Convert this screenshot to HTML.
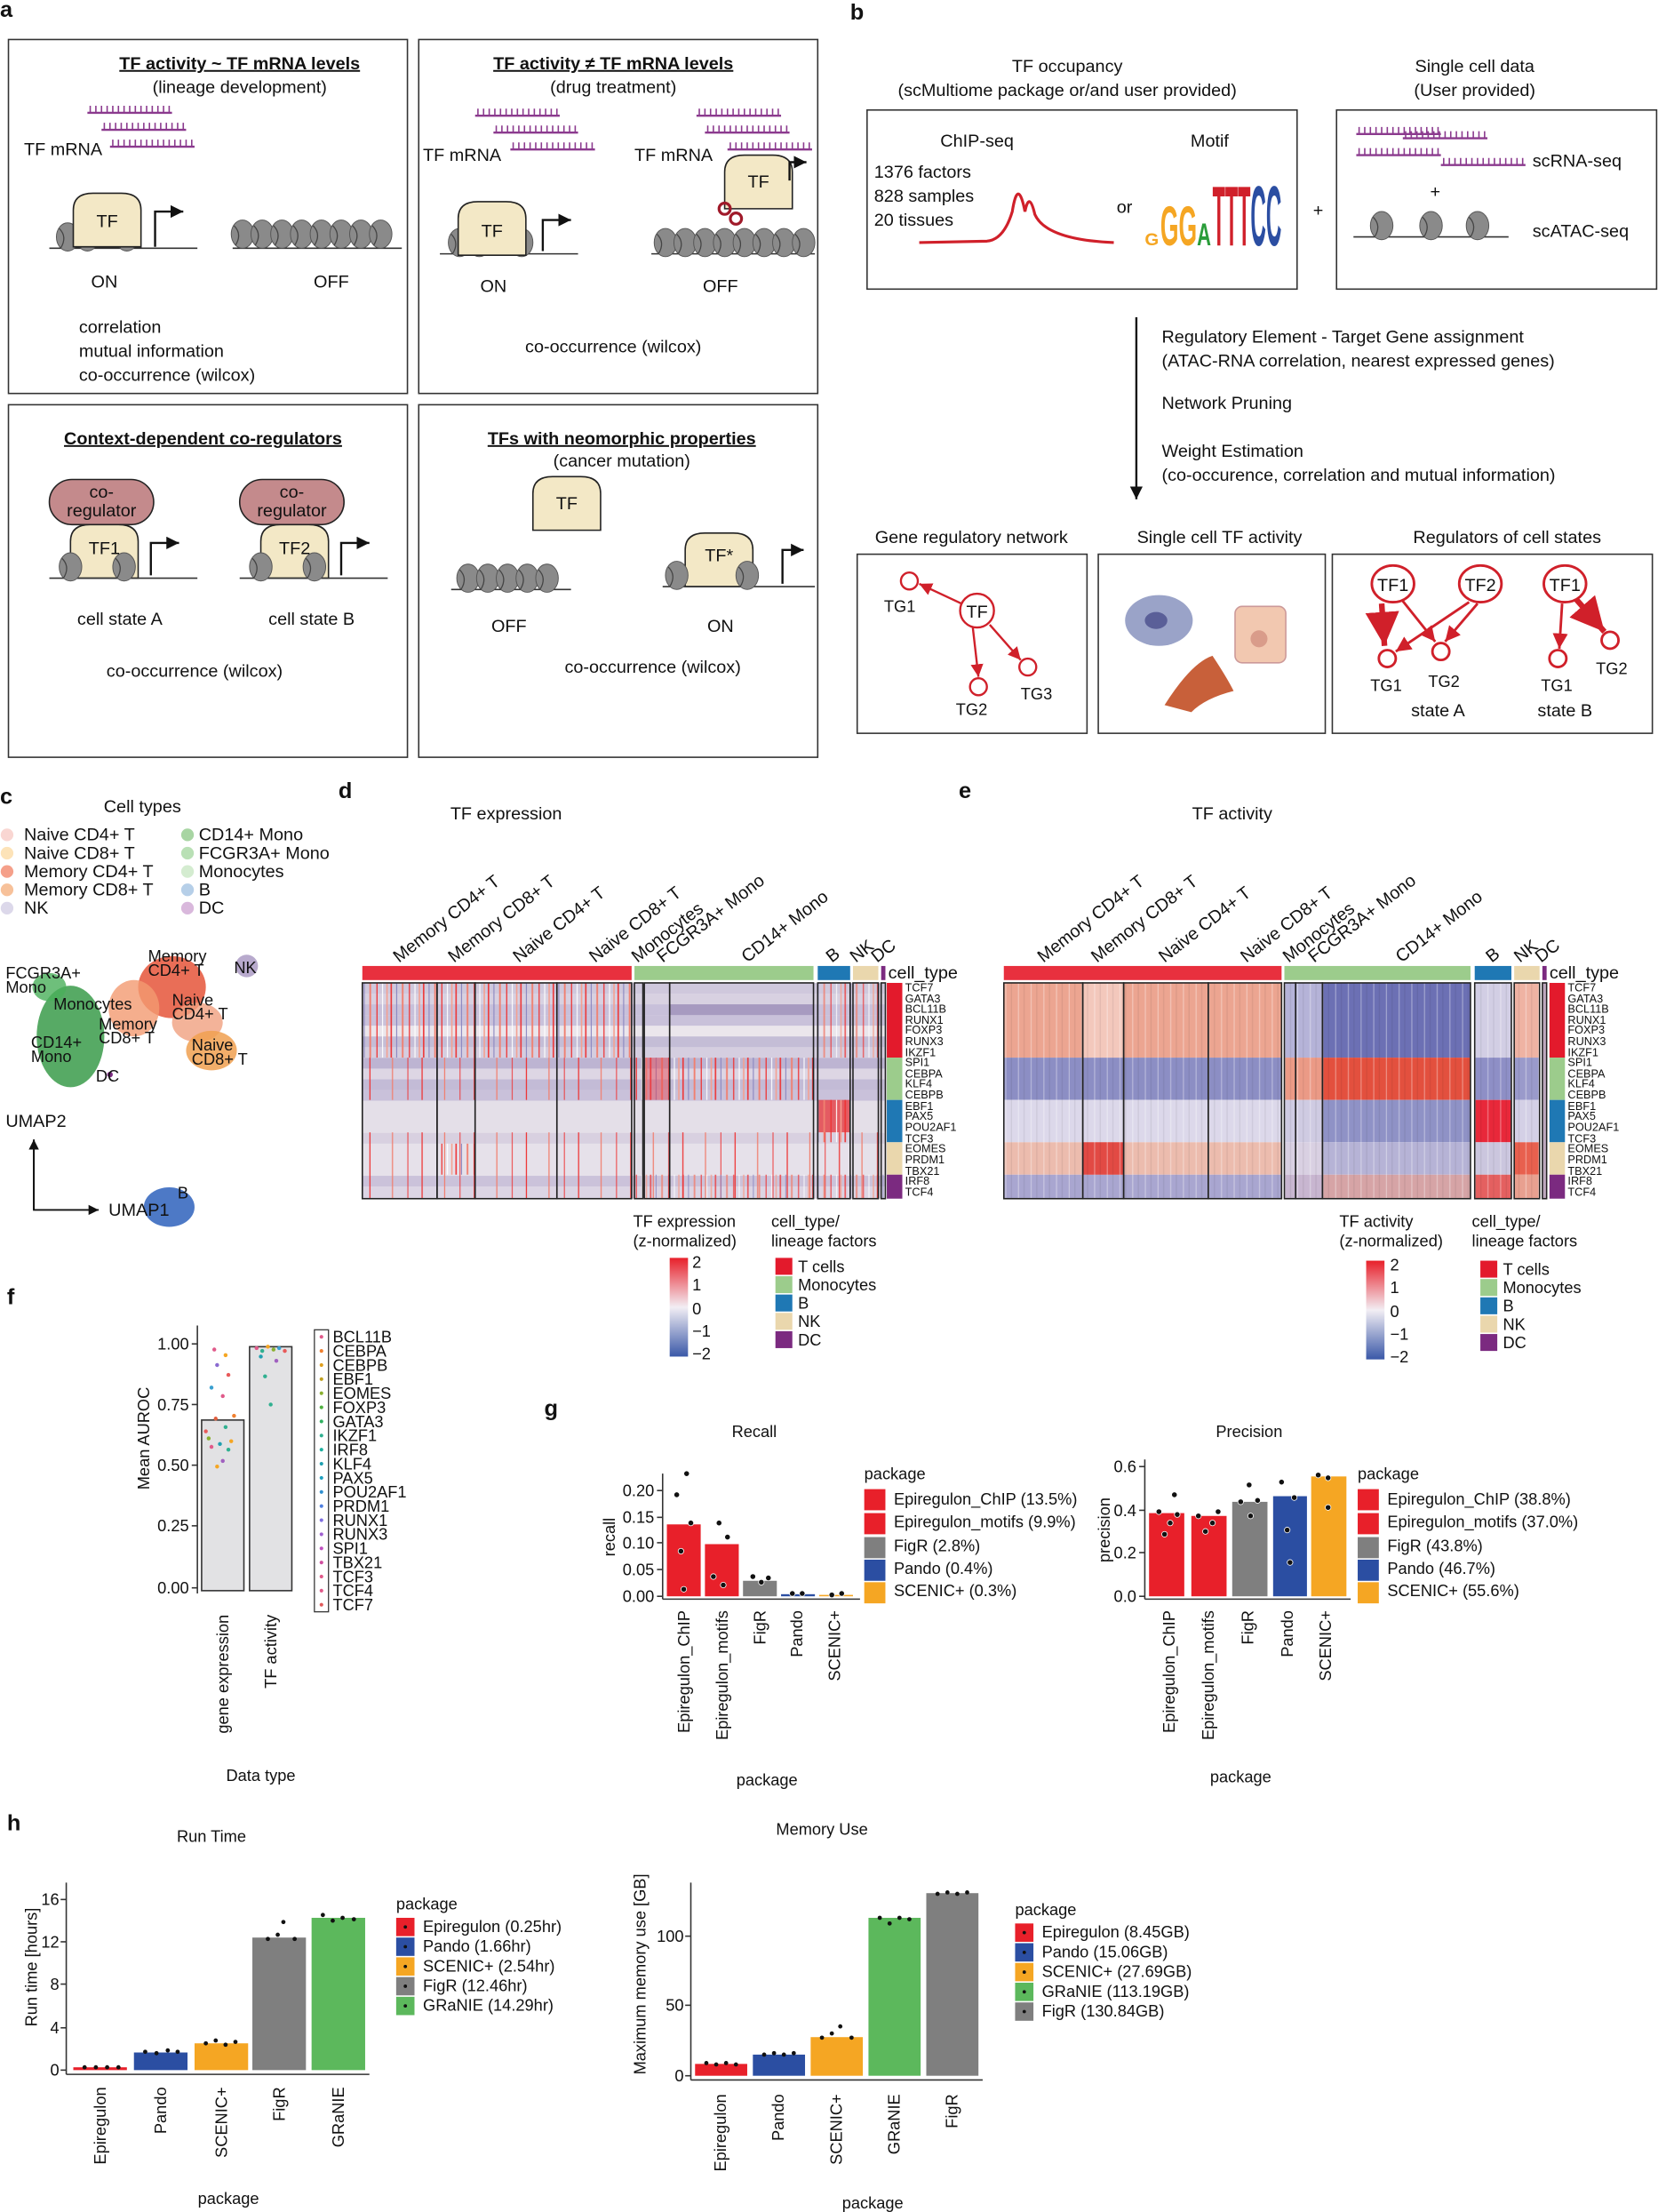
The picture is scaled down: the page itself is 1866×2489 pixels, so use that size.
<!DOCTYPE html>
<html><head><meta charset="utf-8"><style>
html,body{margin:0;padding:0;background:#fff}
svg{display:block}
text{font-family:"Liberation Sans",Arial,sans-serif;fill:#111}
.t{font-size:12.5px}.s{font-size:11.5px}.xs{font-size:8px}.L{font-size:16px;font-weight:bold}
.b{font-weight:bold;text-decoration:underline}
</style></head><body>
<svg width="1866" height="2489" viewBox="0 0 1176 1568.6" xmlns="http://www.w3.org/2000/svg">
<defs>
<pattern id="spk" width="23" height="8" patternUnits="userSpaceOnUse"><rect x="1" width="1" height="8" fill="#e33"/><rect x="5" width="0.7" height="8" fill="#8a86c0"/><rect x="9" width="1.2" height="8" fill="#f08070"/><rect x="14" width="0.8" height="8" fill="#e33"/><rect x="18" width="0.7" height="8" fill="#fff"/><rect x="21" width="1" height="8" fill="#f4a090"/></pattern>
<pattern id="spk2" width="37" height="8" patternUnits="userSpaceOnUse"><rect x="3" width="0.8" height="8" fill="#e33"/><rect x="19" width="0.8" height="8" fill="#f08070"/><rect x="30" width="0.6" height="8" fill="#e33"/></pattern>
<pattern id="nz" width="9" height="8" patternUnits="userSpaceOnUse"><rect x="2" width="0.8" height="8" fill="#fff" opacity=".35"/><rect x="6" width="0.8" height="8" fill="#000" opacity=".07"/></pattern>
<linearGradient id="cb" x1="0" y1="0" x2="0" y2="1"><stop offset="0" stop-color="#e8202a"/><stop offset=".5" stop-color="#f2eef4"/><stop offset="1" stop-color="#3a58a8"/></linearGradient>
<marker id="ar" markerWidth="8" markerHeight="8" refX="6" refY="3" orient="auto"><path d="M0,0L6,3L0,6z" fill="#111"/></marker>
<marker id="arr" markerWidth="8" markerHeight="8" refX="6" refY="3" orient="auto"><path d="M0,0L6,3L0,6z" fill="#d0202a"/></marker>
<g id="nuc"><ellipse cx="0" cy="0" rx="8" ry="10" fill="#8a8a8a" stroke="#555" stroke-width=".6"/><path d="M-6,-6 Q0,0 -5,8" stroke="#444" fill="none" stroke-width=".8"/></g>
<g id="mrna"><line x1="0" y1="0" x2="60" y2="0" stroke="#8b3a8e" stroke-width="1.5"/><path d="M2,0v-5M6,0v-5M10,0v-5M14,0v-5M18,0v-5M22,0v-5M26,0v-5M30,0v-5M34,0v-5M38,0v-5M42,0v-5M46,0v-5M50,0v-5M54,0v-5M58,0v-5" stroke="#8b3a8e" stroke-width="1"/></g>
<g id="tf"><path d="M0,38 L0,12 Q0,0 14,0 L34,0 Q48,0 48,12 L48,38z" fill="#f3e8c6" stroke="#222" stroke-width="1"/></g>
</defs>

<!-- ============ PANEL A ============ -->
<text x="0" y="12" class="L">a</text>
<g fill="none" stroke="#333" stroke-width="1"><rect x="6" y="28" width="283" height="251"/><rect x="297" y="28" width="283" height="251"/><rect x="6" y="287" width="283" height="250"/><rect x="297" y="287" width="283" height="250"/></g>
<text x="170" y="49" class="t b" text-anchor="middle">TF activity ~ TF mRNA levels</text>
<text x="170" y="66" class="t" text-anchor="middle">(lineage development)</text>
<text x="17" y="110" class="t">TF mRNA</text>
<use href="#mrna" x="62" y="80"/><use href="#mrna" x="72" y="92"/><use href="#mrna" x="78" y="104"/>
<line x1="35" y1="176" x2="140" y2="176" stroke="#333"/>
<use href="#nuc" x="48" y="168"/><use href="#nuc" x="62" y="168"/><use href="#nuc" x="90" y="168"/>
<use href="#tf" x="52" y="137"/><text x="76" y="161" class="t" text-anchor="middle">TF</text>
<path d="M110,175 V150 H130" stroke="#111" fill="none" stroke-width="1.5" marker-end="url(#ar)"/>
<g><line x1="165" y1="176" x2="285" y2="176" stroke="#333"/>
<use href="#nuc" x="172" y="166"/><use href="#nuc" x="186" y="166"/><use href="#nuc" x="200" y="166"/><use href="#nuc" x="214" y="166"/><use href="#nuc" x="228" y="166"/><use href="#nuc" x="242" y="166"/><use href="#nuc" x="256" y="166"/><use href="#nuc" x="270" y="166"/></g>
<text x="74" y="204" class="t" text-anchor="middle">ON</text><text x="235" y="204" class="t" text-anchor="middle">OFF</text>
<text x="56" y="236" class="t">correlation</text><text x="56" y="253" class="t">mutual information</text><text x="56" y="270" class="t">co-occurrence (wilcox)</text>

<text x="435" y="49" class="t b" text-anchor="middle">TF activity ≠ TF mRNA levels</text>
<text x="435" y="66" class="t" text-anchor="middle">(drug treatment)</text>
<text x="300" y="114" class="t">TF mRNA</text>
<use href="#mrna" x="337" y="82"/><use href="#mrna" x="350" y="94"/><use href="#mrna" x="362" y="106"/>
<line x1="312" y1="180" x2="410" y2="180" stroke="#333"/>
<use href="#nuc" x="326" y="172"/><use href="#nuc" x="340" y="172"/><use href="#nuc" x="370" y="172"/>
<use href="#tf" x="325" y="143"/><text x="349" y="168" class="t" text-anchor="middle">TF</text>
<path d="M385,178 V156 H405" stroke="#111" fill="none" stroke-width="1.5" marker-end="url(#ar)"/>
<text x="450" y="114" class="t">TF mRNA</text>
<use href="#mrna" x="494" y="82"/><use href="#mrna" x="500" y="94"/><use href="#mrna" x="516" y="106"/>
<use href="#tf" x="514" y="110"/><text x="538" y="133" class="t" text-anchor="middle">TF</text>
<path d="M560,128 V115 H572" stroke="#111" fill="none" stroke-width="1.5" marker-end="url(#ar)"/>
<circle cx="514" cy="148" r="4" fill="none" stroke="#a01a2a" stroke-width="2"/><circle cx="522" cy="155" r="4" fill="none" stroke="#a01a2a" stroke-width="2"/>
<line x1="462" y1="180" x2="578" y2="180" stroke="#333"/>
<g><use href="#nuc" x="472" y="172"/><use href="#nuc" x="486" y="172"/><use href="#nuc" x="500" y="172"/><use href="#nuc" x="514" y="172"/><use href="#nuc" x="528" y="172"/><use href="#nuc" x="542" y="172"/><use href="#nuc" x="556" y="172"/><use href="#nuc" x="570" y="172"/></g>
<text x="350" y="207" class="t" text-anchor="middle">ON</text><text x="511" y="207" class="t" text-anchor="middle">OFF</text>
<text x="435" y="250" class="t" text-anchor="middle">co-occurrence (wilcox)</text>

<text x="144" y="315" class="t b" text-anchor="middle">Context-dependent co-regulators</text>
<rect x="35" y="340" width="74" height="32" rx="16" fill="#c48a8c" stroke="#222"/><text x="72" y="353" class="t" text-anchor="middle">co-</text><text x="72" y="366" class="t" text-anchor="middle">regulator</text>
<rect x="170" y="340" width="74" height="32" rx="16" fill="#c48a8c" stroke="#222"/><text x="207" y="353" class="t" text-anchor="middle">co-</text><text x="207" y="366" class="t" text-anchor="middle">regulator</text>
<use href="#tf" x="50" y="372"/><text x="74" y="393" class="t" text-anchor="middle">TF1</text>
<use href="#tf" x="185" y="372"/><text x="209" y="393" class="t" text-anchor="middle">TF2</text>
<line x1="35" y1="410" x2="140" y2="410" stroke="#333"/><line x1="170" y1="410" x2="275" y2="410" stroke="#333"/>
<use href="#nuc" x="50" y="402"/><use href="#nuc" x="88" y="402"/><use href="#nuc" x="185" y="402"/><use href="#nuc" x="223" y="402"/>
<path d="M107,408 V385 H127" stroke="#111" fill="none" stroke-width="1.5" marker-end="url(#ar)"/>
<path d="M242,408 V385 H262" stroke="#111" fill="none" stroke-width="1.5" marker-end="url(#ar)"/>
<text x="85" y="443" class="t" text-anchor="middle">cell state A</text><text x="221" y="443" class="t" text-anchor="middle">cell state B</text>
<text x="138" y="480" class="t" text-anchor="middle">co-occurrence (wilcox)</text>

<text x="441" y="315" class="t b" text-anchor="middle">TFs with neomorphic properties</text>
<text x="441" y="331" class="t" text-anchor="middle">(cancer mutation)</text>
<use href="#tf" x="378" y="338"/><text x="402" y="361" class="t" text-anchor="middle">TF</text>
<line x1="320" y1="418" x2="405" y2="418" stroke="#333"/>
<g><use href="#nuc" x="332" y="410"/><use href="#nuc" x="346" y="410"/><use href="#nuc" x="360" y="410"/><use href="#nuc" x="374" y="410"/><use href="#nuc" x="388" y="410"/></g>
<use href="#tf" x="486" y="378"/><text x="510" y="398" class="t" text-anchor="middle">TF*</text>
<line x1="470" y1="416" x2="578" y2="416" stroke="#333"/>
<use href="#nuc" x="480" y="408"/><use href="#nuc" x="530" y="408"/>
<path d="M555,414 V390 H570" stroke="#111" fill="none" stroke-width="1.5" marker-end="url(#ar)"/>
<text x="361" y="448" class="t" text-anchor="middle">OFF</text><text x="511" y="448" class="t" text-anchor="middle">ON</text>
<text x="463" y="477" class="t" text-anchor="middle">co-occurrence (wilcox)</text>

<!-- ============ PANEL B ============ -->
<text x="603" y="14" class="L">b</text>
<text x="757" y="51" class="t" text-anchor="middle">TF occupancy</text>
<text x="757" y="68" class="t" text-anchor="middle">(scMultiome package or/and user provided)</text>
<text x="1046" y="51" class="t" text-anchor="middle">Single cell data</text>
<text x="1046" y="68" class="t" text-anchor="middle">(User provided)</text>
<rect x="615" y="78" width="305" height="127" fill="none" stroke="#333"/>
<rect x="948" y="78" width="227" height="127" fill="none" stroke="#333"/>
<text x="693" y="104" class="t" text-anchor="middle">ChIP-seq</text><text x="858" y="104" class="t" text-anchor="middle">Motif</text>
<text x="620" y="126" class="t">1376 factors</text><text x="620" y="143" class="t">828 samples</text><text x="620" y="160" class="t">20 tissues</text>
<path d="M652,172 L700,171 Q712,170 718,150 Q722,125 727,150 Q730,135 734,152 Q742,170 790,172" stroke="#d0202a" stroke-width="2" fill="none"/>
<text x="792" y="151" class="t">or</text>
<g font-weight="bold">
<text x="812" y="174" font-size="12" style="fill:#f5a623" textLength="10" lengthAdjust="spacingAndGlyphs">G</text>
<text x="823" y="174" font-size="40" style="fill:#f5a623" textLength="13" lengthAdjust="spacingAndGlyphs">G</text>
<text x="836" y="174" font-size="40" style="fill:#f5a623" textLength="13" lengthAdjust="spacingAndGlyphs">G</text>
<text x="849" y="174" font-size="22" style="fill:#2a9d3a" textLength="10" lengthAdjust="spacingAndGlyphs">A</text>
<text x="860" y="174" font-size="60" style="fill:#d0202a" textLength="27" lengthAdjust="spacingAndGlyphs">TTT</text>
<text x="887" y="174" font-size="60" style="fill:#2b4ea2" textLength="22" lengthAdjust="spacingAndGlyphs">CC</text></g>
<text x="935" y="153" class="t" text-anchor="middle">+</text>
<use href="#mrna" x="962" y="95"/><use href="#mrna" x="995" y="98"/><use href="#mrna" x="1022" y="117"/><use href="#mrna" x="962" y="110"/>
<text x="1087" y="118" class="t">scRNA-seq</text>
<text x="1018" y="140" class="t" text-anchor="middle">+</text>
<line x1="960" y1="168" x2="1070" y2="168" stroke="#333"/>
<use href="#nuc" x="980" y="160"/><use href="#nuc" x="1015" y="160"/><use href="#nuc" x="1048" y="160"/>
<text x="1087" y="168" class="t">scATAC-seq</text>
<line x1="806" y1="225" x2="806" y2="354" stroke="#111" stroke-width="1.5" marker-end="url(#ar)"/>
<text x="824" y="243" class="t">Regulatory Element - Target Gene assignment</text>
<text x="824" y="260" class="t">(ATAC-RNA correlation, nearest expressed genes)</text>
<text x="824" y="290" class="t">Network Pruning</text>
<text x="824" y="324" class="t">Weight Estimation</text>
<text x="824" y="341" class="t">(co-occurence, correlation and mutual information)</text>
<text x="689" y="385" class="t" text-anchor="middle">Gene regulatory network</text>
<text x="865" y="385" class="t" text-anchor="middle">Single cell TF activity</text>
<text x="1069" y="385" class="t" text-anchor="middle">Regulators of cell states</text>
<g fill="none" stroke="#333"><rect x="608" y="393" width="163" height="127"/><rect x="779" y="393" width="161" height="127"/><rect x="945" y="393" width="227" height="127"/></g>
<g stroke="#d0202a" fill="#fff" stroke-width="1.5">
<line x1="682" y1="428" x2="652" y2="414" marker-end="url(#arr)"/><line x1="690" y1="445" x2="694" y2="480" marker-end="url(#arr)"/><line x1="702" y1="443" x2="724" y2="468" marker-end="url(#arr)"/>
<circle cx="693" cy="433" r="12"/><circle cx="645" cy="412" r="6"/><circle cx="694" cy="487" r="6"/><circle cx="729" cy="473" r="6"/></g>
<text x="693" y="438" class="t" text-anchor="middle">TF</text><text x="627" y="434" class="s">TG1</text><text x="678" y="507" class="s">TG2</text><text x="724" y="496" class="s">TG3</text>
<ellipse cx="822" cy="440" rx="24" ry="18" fill="#9aa3c8"/><ellipse cx="820" cy="440" rx="8" ry="6" fill="#5a5f98"/>
<rect x="876" y="430" width="36" height="40" rx="5" fill="#f2c8b0" stroke="#c99"/><circle cx="893" cy="453" r="6" fill="#d99c8a"/>
<path d="M826,500 Q845,470 860,465 Q870,480 875,490 Q855,495 845,505z" fill="#c8603a"/>
<g stroke="#d0202a" fill="#fff" stroke-width="1.8">
<line x1="980" y1="428" x2="982" y2="458" stroke-width="4" marker-end="url(#arr)"/><line x1="994" y1="425" x2="1018" y2="455" marker-end="url(#arr)"/><line x1="1042" y1="427" x2="990" y2="462" marker-end="url(#arr)"/><line x1="1048" y1="428" x2="1025" y2="455" marker-end="url(#arr)"/>
<line x1="1108" y1="428" x2="1106" y2="460" marker-end="url(#arr)"/><line x1="1118" y1="425" x2="1138" y2="448" stroke-width="4" marker-end="url(#arr)"/>
<ellipse cx="988" cy="414" rx="15" ry="13"/><ellipse cx="1050" cy="414" rx="15" ry="13"/><ellipse cx="1110" cy="414" rx="15" ry="13"/>
<circle cx="984" cy="467" r="6"/><circle cx="1022" cy="462" r="6"/><circle cx="1105" cy="467" r="6"/><circle cx="1142" cy="454" r="6"/></g>
<text x="988" y="419" class="t" text-anchor="middle">TF1</text><text x="1050" y="419" class="t" text-anchor="middle">TF2</text><text x="1110" y="419" class="t" text-anchor="middle">TF1</text>
<text x="972" y="490" class="s">TG1</text><text x="1013" y="487" class="s">TG2</text><text x="1093" y="490" class="s">TG1</text><text x="1132" y="478" class="s">TG2</text>
<text x="1020" y="508" class="t" text-anchor="middle">state A</text><text x="1110" y="508" class="t" text-anchor="middle">state B</text>

<!-- ============ PANEL C ============ -->
<text x="0" y="570" class="L">c</text>
<text x="101" y="576" class="t" text-anchor="middle">Cell types</text>
<g class="t">
<circle cx="5" cy="592" r="4.5" fill="#f9d6d2"/><text x="17" y="596">Naive CD4+ T</text>
<circle cx="5" cy="605" r="4.5" fill="#fde3b8"/><text x="17" y="609">Naive CD8+ T</text>
<circle cx="5" cy="618" r="4.5" fill="#f5a08a"/><text x="17" y="622">Memory CD4+ T</text>
<circle cx="5" cy="631" r="4.5" fill="#f7c19a"/><text x="17" y="635">Memory CD8+ T</text>
<circle cx="5" cy="644" r="4.5" fill="#dcd8ea"/><text x="17" y="648">NK</text>
<circle cx="133" cy="592" r="4.5" fill="#a8d5a3"/><text x="141" y="596">CD14+ Mono</text>
<circle cx="133" cy="605" r="4.5" fill="#b9e0b5"/><text x="141" y="609">FCGR3A+ Mono</text>
<circle cx="133" cy="618" r="4.5" fill="#d4ecd0"/><text x="141" y="622">Monocytes</text>
<circle cx="133" cy="631" r="4.5" fill="#b6cfe8"/><text x="141" y="635">B</text>
<circle cx="133" cy="644" r="4.5" fill="#d9b8dc"/><text x="141" y="648">DC</text></g>
<ellipse cx="122" cy="700" rx="24" ry="22" fill="#e5553a" opacity=".85"/>
<ellipse cx="140" cy="725" rx="18" ry="14" fill="#f0a080" opacity=".8"/>
<ellipse cx="150" cy="745" rx="18" ry="14" fill="#f0a050" opacity=".85"/>
<ellipse cx="95" cy="715" rx="18" ry="20" fill="#f39a70" opacity=".8"/>
<ellipse cx="50" cy="735" rx="24" ry="36" fill="#3a9b4a" opacity=".85"/>
<ellipse cx="35" cy="700" rx="12" ry="10" fill="#4aaf5a" opacity=".8"/>
<ellipse cx="175" cy="685" rx="8" ry="8" fill="#9a86b8" opacity=".7"/>
<ellipse cx="120" cy="856" rx="18" ry="14" fill="#3a6ac0" opacity=".9"/>
<circle cx="78" cy="762" r="2" fill="#7a2a80"/>
<g class="s"><text x="4" y="694">FCGR3A+</text><text x="4" y="704">Mono</text><text x="38" y="716">Monocytes</text><text x="22" y="743">CD14+</text><text x="22" y="753">Mono</text>
<text x="105" y="682">Memory</text><text x="105" y="692">CD4+ T</text><text x="166" y="690">NK</text><text x="122" y="713">Naive</text><text x="122" y="723">CD4+ T</text>
<text x="70" y="730">Memory</text><text x="70" y="740">CD8+ T</text><text x="136" y="745">Naive</text><text x="136" y="755">CD8+ T</text><text x="68" y="767">DC</text><text x="126" y="850">B</text></g>
<text x="4" y="799" class="t">UMAP2</text>
<path d="M24,810 V858 H70" stroke="#111" fill="none" stroke-width="1.2" marker-end="url(#ar)"/>
<line x1="24" y1="858" x2="24" y2="808" stroke="#111" stroke-width="1.2" marker-end="url(#ar)"/>
<text x="77" y="862" class="t">UMAP1</text>

<!-- ============ PANEL D ============ -->
<text x="240" y="566" class="L">d</text>
<text x="359" y="581" class="t" text-anchor="middle">TF expression</text>
<g class="t">
<text transform="translate(283,683) rotate(-38)">Memory CD4+ T</text>
<text transform="translate(322,683) rotate(-38)">Memory CD8+ T</text>
<text transform="translate(368,683) rotate(-38)">Naive CD4+ T</text>
<text transform="translate(422,683) rotate(-38)">Naive CD8+ T</text>
<text transform="translate(452,683) rotate(-38)">Monocytes</text>
<text transform="translate(470,683) rotate(-38)">FCGR3A+ Mono</text>
<text transform="translate(530,683) rotate(-38)">CD14+ Mono</text>
<text transform="translate(590,683) rotate(-38)">B</text>
<text transform="translate(607,683) rotate(-38)">NK</text>
<text transform="translate(622,683) rotate(-38)">DC</text></g>
<rect x="257" y="685" width="191" height="10" fill="#e8303e"/><rect x="450" y="685" width="127" height="10" fill="#9ccc8c"/><rect x="580" y="685" width="23" height="10" fill="#1f78b4"/><rect x="605" y="685" width="18" height="10" fill="#ead7ad"/><rect x="625" y="685" width="3" height="10" fill="#7b2a80"/>
<text x="630" y="694" class="t">cell_type</text>
<rect x="257" y="697" width="371" height="153" fill="#e4dfe9"/>
<g>
<rect x="257" y="697" width="371" height="7.6" fill="#cfc8dc"/><rect x="257" y="704.6" width="371" height="7.6" fill="#d8d1e1"/>
<rect x="257" y="712.2" width="371" height="7.6" fill="#c8c0da"/><rect x="257" y="719.8" width="371" height="7.6" fill="#c9c1da"/>
<rect x="257" y="727.4" width="371" height="7.6" fill="#ebe6ec"/><rect x="257" y="735" width="371" height="7.6" fill="#c4bdd6"/>
<rect x="257" y="742.6" width="371" height="7.6" fill="#d5cee0"/><rect x="257" y="750.2" width="371" height="7.6" fill="#bdb4d2"/>
<rect x="257" y="757.8" width="371" height="7.6" fill="#ddd6e4"/><rect x="257" y="765.4" width="371" height="7.6" fill="#c3bbd6"/>
<rect x="257" y="773" width="371" height="7.6" fill="#c9c1da"/><rect x="257" y="780.6" width="371" height="22.8" fill="#e4dfe8"/>
<rect x="257" y="803.4" width="371" height="7.6" fill="#d8d0e0"/><rect x="257" y="811" width="371" height="22.8" fill="#e6e1ea"/>
<rect x="257" y="833.8" width="371" height="7.6" fill="#cbc2da"/><rect x="257" y="841.4" width="371" height="8.6" fill="#dcd5e4"/>
<rect x="475" y="712.2" width="102" height="7.6" fill="#a79ac0"/>
</g>
<rect x="257" y="697" width="191" height="53" fill="url(#spk)"/>
<rect x="580" y="697" width="43" height="53" fill="url(#spk)" opacity=".8"/>
<rect x="450" y="750" width="127" height="30" fill="url(#spk)"/>
<rect x="457" y="750" width="18" height="30" fill="#e8404a" opacity=".45"/>
<rect x="580" y="780" width="23" height="23" fill="#e33a40" opacity=".8"/><rect x="580" y="780" width="23" height="30" fill="url(#spk)"/>
<rect x="257" y="803" width="371" height="47" fill="url(#spk2)"/>
<rect x="310" y="811" width="27" height="22" fill="url(#spk)"/>
<rect x="450" y="833" width="178" height="17" fill="url(#spk)" opacity=".8"/>
<rect x="257" y="750" width="191" height="30" fill="url(#spk2)"/>
<g fill="none" stroke="#222" stroke-width="1"><rect x="257" y="697" width="53" height="153"/><rect x="310" y="697" width="27" height="153"/><rect x="337" y="697" width="58" height="153"/><rect x="395" y="697" width="53" height="153"/><rect x="450" y="697" width="6" height="153"/><rect x="457" y="697" width="18" height="153"/><rect x="475" y="697" width="102" height="153"/><rect x="580" y="697" width="23" height="153"/><rect x="605" y="697" width="18" height="153"/><rect x="625" y="697" width="3" height="153"/></g>
<rect x="629" y="697" width="11" height="53" fill="#e31a2c"/><rect x="629" y="750" width="11" height="30" fill="#9ccc8c"/><rect x="629" y="780" width="11" height="30" fill="#1f78b4"/><rect x="629" y="810" width="11" height="23" fill="#ead7ad"/><rect x="629" y="833" width="11" height="17" fill="#7b2a80"/>
<g class="xs" id="rl">
<text x="642" y="703">TCF7</text><text x="642" y="711">GATA3</text><text x="642" y="718">BCL11B</text><text x="642" y="726">RUNX1</text><text x="642" y="733">FOXP3</text><text x="642" y="741">RUNX3</text><text x="642" y="749">IKZF1</text><text x="642" y="756">SPI1</text><text x="642" y="764">CEBPA</text><text x="642" y="771">KLF4</text><text x="642" y="779">CEBPB</text><text x="642" y="787">EBF1</text><text x="642" y="794">PAX5</text><text x="642" y="802">POU2AF1</text><text x="642" y="810">TCF3</text><text x="642" y="817">EOMES</text><text x="642" y="825">PRDM1</text><text x="642" y="833">TBX21</text><text x="642" y="840">IRF8</text><text x="642" y="848">TCF4</text></g>
<text x="449" y="870" class="s">TF expression</text><text x="449" y="884" class="s">(z-normalized)</text>
<rect x="475" y="892" width="13" height="70" fill="url(#cb)"/>
<g class="s"><text x="491" y="899">2</text><text x="491" y="915">1</text><text x="491" y="932">0</text><text x="491" y="948">−1</text><text x="491" y="964">−2</text></g>
<text x="547" y="870" class="s">cell_type/</text><text x="547" y="884" class="s">lineage factors</text>
<g class="s"><rect x="550" y="892" width="12" height="12" fill="#e31a2c"/><text x="566" y="902">T cells</text><rect x="550" y="905" width="12" height="12" fill="#9ccc8c"/><text x="566" y="915">Monocytes</text><rect x="550" y="918" width="12" height="12" fill="#1f78b4"/><text x="566" y="928">B</text><rect x="550" y="931" width="12" height="12" fill="#ead7ad"/><text x="566" y="941">NK</text><rect x="550" y="944" width="12" height="12" fill="#7b2a80"/><text x="566" y="954">DC</text></g>

<!-- ============ PANEL E ============ -->
<text x="680" y="566" class="L">e</text>
<text x="874" y="581" class="t" text-anchor="middle">TF activity</text>
<g class="t">
<text transform="translate(740,683) rotate(-38)">Memory CD4+ T</text>
<text transform="translate(778,683) rotate(-38)">Memory CD8+ T</text>
<text transform="translate(826,683) rotate(-38)">Naive CD4+ T</text>
<text transform="translate(884,683) rotate(-38)">Naive CD8+ T</text>
<text transform="translate(914,683) rotate(-38)">Monocytes</text>
<text transform="translate(932,683) rotate(-38)">FCGR3A+ Mono</text>
<text transform="translate(994,683) rotate(-38)">CD14+ Mono</text>
<text transform="translate(1058,683) rotate(-38)">B</text>
<text transform="translate(1078,683) rotate(-38)">NK</text>
<text transform="translate(1093,683) rotate(-38)">DC</text></g>
<rect x="712" y="685" width="197" height="10" fill="#e8303e"/><rect x="911" y="685" width="132" height="10" fill="#9ccc8c"/><rect x="1046" y="685" width="26" height="10" fill="#1f78b4"/><rect x="1074" y="685" width="18" height="10" fill="#ead7ad"/><rect x="1094" y="685" width="3" height="10" fill="#7b2a80"/>
<text x="1099" y="694" class="t">cell_type</text>
<g>
<rect x="712" y="697" width="197" height="53" fill="#eca591"/><rect x="712" y="750" width="197" height="30" fill="#8c8ec4"/><rect x="712" y="780" width="197" height="30" fill="#dcd8ea"/><rect x="712" y="810" width="197" height="23" fill="#ecbcae"/><rect x="712" y="833" width="197" height="17" fill="#a9a6d0"/>
<rect x="768" y="810" width="29" height="23" fill="#e24a44"/><rect x="768" y="697" width="29" height="53" fill="#f3c8bc"/>
<rect x="911" y="697" width="27" height="53" fill="#b5b3d8"/><rect x="911" y="750" width="27" height="30" fill="#eb9a86"/><rect x="911" y="780" width="27" height="30" fill="#cfcbe2"/><rect x="911" y="810" width="27" height="23" fill="#d9d0e2"/><rect x="911" y="833" width="27" height="17" fill="#c8b6d0"/>
<rect x="938" y="697" width="105" height="53" fill="#6c70b4"/><rect x="938" y="750" width="105" height="30" fill="#e3503e"/><rect x="938" y="780" width="105" height="30" fill="#8f92c6"/><rect x="938" y="810" width="105" height="23" fill="#b6b3d6"/><rect x="938" y="833" width="105" height="17" fill="#d6a4a6"/>
<rect x="1046" y="697" width="26" height="53" fill="#d2cee4"/><rect x="1046" y="750" width="26" height="30" fill="#8e8fc6"/><rect x="1046" y="780" width="26" height="30" fill="#e8283a"/><rect x="1046" y="810" width="26" height="23" fill="#cbc6de"/><rect x="1046" y="833" width="26" height="17" fill="#e46060"/>
<rect x="1074" y="697" width="18" height="53" fill="#efb3a3"/><rect x="1074" y="750" width="18" height="30" fill="#9a9acb"/><rect x="1074" y="780" width="18" height="30" fill="#d4d0e6"/><rect x="1074" y="810" width="18" height="23" fill="#e8604e"/><rect x="1074" y="833" width="18" height="17" fill="#e8a090"/>
<rect x="1094" y="697" width="3" height="153" fill="#c8b0c8"/>
</g>
<rect x="712" y="697" width="385" height="153" fill="url(#nz)"/>
<g fill="none" stroke="#222" stroke-width="1"><rect x="712" y="697" width="56" height="153"/><rect x="768" y="697" width="29" height="153"/><rect x="797" y="697" width="60" height="153"/><rect x="857" y="697" width="52" height="153"/><rect x="911" y="697" width="8" height="153"/><rect x="919" y="697" width="19" height="153"/><rect x="938" y="697" width="105" height="153"/><rect x="1046" y="697" width="26" height="153"/><rect x="1074" y="697" width="18" height="153"/><rect x="1094" y="697" width="3" height="153"/></g>
<rect x="1099" y="697" width="11" height="53" fill="#e31a2c"/><rect x="1099" y="750" width="11" height="30" fill="#9ccc8c"/><rect x="1099" y="780" width="11" height="30" fill="#1f78b4"/><rect x="1099" y="810" width="11" height="23" fill="#ead7ad"/><rect x="1099" y="833" width="11" height="17" fill="#7b2a80"/>
<use href="#rl" x="470" y="0"/>
<text x="950" y="870" class="s">TF activity</text><text x="950" y="884" class="s">(z-normalized)</text>
<rect x="969" y="894" width="13" height="70" fill="url(#cb)"/>
<g class="s"><text x="986" y="901">2</text><text x="986" y="917">1</text><text x="986" y="934">0</text><text x="986" y="950">−1</text><text x="986" y="966">−2</text></g>
<text x="1044" y="870" class="s">cell_type/</text><text x="1044" y="884" class="s">lineage factors</text>
<g class="s"><rect x="1050" y="894" width="12" height="12" fill="#e31a2c"/><text x="1066" y="904">T cells</text><rect x="1050" y="907" width="12" height="12" fill="#9ccc8c"/><text x="1066" y="917">Monocytes</text><rect x="1050" y="920" width="12" height="12" fill="#1f78b4"/><text x="1066" y="930">B</text><rect x="1050" y="933" width="12" height="12" fill="#ead7ad"/><text x="1066" y="943">NK</text><rect x="1050" y="946" width="12" height="12" fill="#7b2a80"/><text x="1066" y="956">DC</text></g>

<!-- ============ PANEL F ============ -->
<text x="5" y="925" class="L">f</text>
<g class="s" text-anchor="end"><text x="134" y="957">1.00</text><text x="134" y="1000">0.75</text><text x="134" y="1043">0.50</text><text x="134" y="1086">0.25</text><text x="134" y="1130">0.00</text></g>
<g stroke="#333"><line x1="140" y1="940" x2="140" y2="1130"/><line x1="136" y1="953" x2="140" y2="953"/><line x1="136" y1="996" x2="140" y2="996"/><line x1="136" y1="1039" x2="140" y2="1039"/><line x1="136" y1="1082" x2="140" y2="1082"/><line x1="136" y1="1126" x2="140" y2="1126"/></g>
<text transform="translate(106,1020) rotate(-90)" class="s" text-anchor="middle">Mean AUROC</text>
<rect x="143" y="1007" width="30" height="121" fill="#e2e2e4" stroke="#333"/>
<rect x="177" y="955" width="30" height="173" fill="#e2e2e4" stroke="#333"/>
<g>
<circle cx="152" cy="957" r="1.4" fill="#e05a8a"/><circle cx="160" cy="961" r="1.4" fill="#f5a623"/><circle cx="154" cy="968" r="1.4" fill="#8a6ad0"/><circle cx="162" cy="975" r="1.4" fill="#e85a5a"/><circle cx="150" cy="984" r="1.4" fill="#3aa0d0"/><circle cx="158" cy="990" r="1.4" fill="#e05a8a"/><circle cx="166" cy="1004" r="1.4" fill="#f08030"/><circle cx="153" cy="1006" r="1.4" fill="#e06040"/><circle cx="160" cy="1012" r="1.4" fill="#30b090"/><circle cx="148" cy="1020" r="1.4" fill="#8ab030"/><circle cx="156" cy="1024" r="1.4" fill="#20a0b0"/><circle cx="164" cy="1022" r="1.4" fill="#f5a623"/><circle cx="150" cy="1026" r="1.4" fill="#e05a8a"/><circle cx="158" cy="1036" r="1.4" fill="#a060c0"/><circle cx="154" cy="1040" r="1.4" fill="#f5a623"/><circle cx="146" cy="1015" r="1.4" fill="#e85a5a"/><circle cx="162" cy="1028" r="1.4" fill="#30b090"/>
<circle cx="182" cy="956" r="1.4" fill="#e05a8a"/><circle cx="186" cy="958" r="1.4" fill="#30b090"/><circle cx="190" cy="955" r="1.4" fill="#f5a623"/><circle cx="194" cy="957" r="1.4" fill="#8ab030"/><circle cx="198" cy="956" r="1.4" fill="#3aa0d0"/><circle cx="202" cy="958" r="1.4" fill="#e85a5a"/><circle cx="185" cy="962" r="1.4" fill="#20a0b0"/><circle cx="196" cy="965" r="1.4" fill="#a060c0"/><circle cx="188" cy="976" r="1.4" fill="#30b090"/><circle cx="192" cy="996" r="1.4" fill="#30b090"/></g>
<g class="s" text-anchor="end"><text transform="translate(162,1145) rotate(-90)">gene expression</text><text transform="translate(196,1145) rotate(-90)">TF activity</text></g>
<text x="185" y="1263" class="s" text-anchor="middle">Data type</text>
<rect x="223" y="943" width="10" height="200" fill="none" stroke="#333" stroke-width=".8"/>
<g class="s">
<text x="236" y="952">BCL11B</text><text x="236" y="962">CEBPA</text><text x="236" y="972">CEBPB</text><text x="236" y="982">EBF1</text><text x="236" y="992">EOMES</text><text x="236" y="1002">FOXP3</text><text x="236" y="1012">GATA3</text><text x="236" y="1022">IKZF1</text><text x="236" y="1032">IRF8</text><text x="236" y="1042">KLF4</text><text x="236" y="1052">PAX5</text><text x="236" y="1062">POU2AF1</text><text x="236" y="1072">PRDM1</text><text x="236" y="1082">RUNX1</text><text x="236" y="1092">RUNX3</text><text x="236" y="1102">SPI1</text><text x="236" y="1112">TBX21</text><text x="236" y="1122">TCF3</text><text x="236" y="1132">TCF4</text><text x="236" y="1142">TCF7</text></g>
<g fill="#e05a8a"><circle cx="228" cy="948" r="1.3"/><circle cx="228" cy="958" r="1.3" fill="#f08030"/><circle cx="228" cy="968" r="1.3" fill="#e0a020"/><circle cx="228" cy="978" r="1.3" fill="#c0a020"/><circle cx="228" cy="988" r="1.3" fill="#8ab030"/><circle cx="228" cy="998" r="1.3" fill="#50b040"/><circle cx="228" cy="1008" r="1.3" fill="#30b060"/><circle cx="228" cy="1018" r="1.3" fill="#30b090"/><circle cx="228" cy="1028" r="1.3" fill="#20b0a0"/><circle cx="228" cy="1038" r="1.3" fill="#20a0b0"/><circle cx="228" cy="1048" r="1.3" fill="#20a0c0"/><circle cx="228" cy="1058" r="1.3" fill="#3090d0"/><circle cx="228" cy="1068" r="1.3" fill="#5080e0"/><circle cx="228" cy="1078" r="1.3" fill="#8070e0"/><circle cx="228" cy="1088" r="1.3" fill="#a060d0"/><circle cx="228" cy="1098" r="1.3" fill="#c050c0"/><circle cx="228" cy="1108" r="1.3" fill="#d050a0"/><circle cx="228" cy="1118" r="1.3"/><circle cx="228" cy="1128" r="1.3"/><circle cx="228" cy="1138" r="1.3" fill="#e05a5a"/></g>

<!-- ============ PANEL G ============ -->
<text x="386" y="1004" class="L">g</text>
<text x="535" y="1019" class="s" text-anchor="middle">Recall</text>
<g class="s" text-anchor="end"><text x="464" y="1061">0.20</text><text x="464" y="1080">0.15</text><text x="464" y="1098">0.10</text><text x="464" y="1117">0.05</text><text x="464" y="1136">0.00</text></g>
<g stroke="#333"><line x1="470" y1="1045" x2="470" y2="1134"/><line x1="466" y1="1057" x2="470" y2="1057"/><line x1="466" y1="1076" x2="470" y2="1076"/><line x1="466" y1="1094" x2="470" y2="1094"/><line x1="466" y1="1113" x2="470" y2="1113"/><line x1="466" y1="1132" x2="470" y2="1132"/><line x1="470" y1="1134" x2="610" y2="1134"/></g>
<text transform="translate(436,1090) rotate(-90)" class="s" text-anchor="middle">recall</text>
<rect x="473" y="1081" width="24" height="51" fill="#e8202a"/><rect x="500" y="1095" width="24" height="37" fill="#e8202a"/><rect x="527" y="1121" width="24" height="11" fill="#7f7f7f"/><rect x="554" y="1130.5" width="24" height="1.5" fill="#2b4ea2"/><rect x="581" y="1131" width="24" height="1" fill="#f5a623"/>
<g fill="#111" stroke="#fff" stroke-width=".5"><circle cx="487" cy="1045" r="2"/><circle cx="480" cy="1060" r="2"/><circle cx="490" cy="1080" r="2"/><circle cx="483" cy="1100" r="2"/><circle cx="485" cy="1127" r="2"/><circle cx="510" cy="1080" r="2"/><circle cx="516" cy="1090" r="2"/><circle cx="506" cy="1118" r="2"/><circle cx="513" cy="1124" r="2"/><circle cx="534" cy="1118" r="2"/><circle cx="540" cy="1122" r="2"/><circle cx="545" cy="1119" r="2"/><circle cx="562" cy="1130" r="2"/><circle cx="569" cy="1130" r="2"/><circle cx="590" cy="1131" r="2"/><circle cx="597" cy="1130" r="2"/></g>
<g class="s" text-anchor="end"><text transform="translate(489,1142) rotate(-90)">Epiregulon_ChIP</text><text transform="translate(516,1142) rotate(-90)">Epiregulon_motifs</text><text transform="translate(543,1142) rotate(-90)">FigR</text><text transform="translate(569,1142) rotate(-90)">Pando</text><text transform="translate(596,1142) rotate(-90)">SCENIC+</text></g>
<text x="544" y="1266" class="s" text-anchor="middle">package</text>
<g class="s"><text x="613" y="1049">package</text>
<rect x="613" y="1056" width="15" height="15" fill="#e8202a"/><text x="634" y="1067">Epiregulon_ChIP (13.5%)</text>
<rect x="613" y="1073" width="15" height="15" fill="#e8202a"/><text x="634" y="1083">Epiregulon_motifs (9.9%)</text>
<rect x="613" y="1090" width="15" height="15" fill="#7f7f7f"/><text x="634" y="1100">FigR (2.8%)</text>
<rect x="613" y="1106" width="15" height="15" fill="#2b4ea2"/><text x="634" y="1116">Pando (0.4%)</text>
<rect x="613" y="1122" width="15" height="15" fill="#f5a623"/><text x="634" y="1132">SCENIC+ (0.3%)</text></g>

<text x="886" y="1019" class="s" text-anchor="middle">Precision</text>
<g class="s" text-anchor="end"><text x="806" y="1044">0.6</text><text x="806" y="1075">0.4</text><text x="806" y="1105">0.2</text><text x="806" y="1136">0.0</text></g>
<g stroke="#333"><line x1="812" y1="1035" x2="812" y2="1134"/><line x1="808" y1="1040" x2="812" y2="1040"/><line x1="808" y1="1071" x2="812" y2="1071"/><line x1="808" y1="1101" x2="812" y2="1101"/><line x1="808" y1="1132" x2="812" y2="1132"/><line x1="812" y1="1134" x2="958" y2="1134"/></g>
<text transform="translate(787,1085) rotate(-90)" class="s" text-anchor="middle">precision</text>
<rect x="815" y="1073" width="25" height="59" fill="#e8202a"/><rect x="845" y="1075" width="25" height="57" fill="#e8202a"/><rect x="874" y="1065" width="25" height="67" fill="#7f7f7f"/><rect x="903" y="1061" width="24" height="71" fill="#2b4ea2"/><rect x="930" y="1047" width="25" height="85" fill="#f5a623"/>
<g fill="#111" stroke="#fff" stroke-width=".5"><circle cx="833" cy="1060" r="2"/><circle cx="822" cy="1072" r="2"/><circle cx="830" cy="1080" r="2"/><circle cx="826" cy="1088" r="2"/><circle cx="835" cy="1074" r="2"/><circle cx="850" cy="1075" r="2"/><circle cx="860" cy="1080" r="2"/><circle cx="855" cy="1086" r="2"/><circle cx="864" cy="1072" r="2"/><circle cx="880" cy="1065" r="2"/><circle cx="886" cy="1053" r="2"/><circle cx="892" cy="1064" r="2"/><circle cx="887" cy="1075" r="2"/><circle cx="909" cy="1051" r="2"/><circle cx="918" cy="1062" r="2"/><circle cx="913" cy="1085" r="2"/><circle cx="915" cy="1108" r="2"/><circle cx="935" cy="1046" r="2"/><circle cx="942" cy="1048" r="2"/><circle cx="942" cy="1069" r="2"/></g>
<g class="s" text-anchor="end"><text transform="translate(833,1142) rotate(-90)">Epiregulon_ChIP</text><text transform="translate(861,1142) rotate(-90)">Epiregulon_motifs</text><text transform="translate(889,1142) rotate(-90)">FigR</text><text transform="translate(917,1142) rotate(-90)">Pando</text><text transform="translate(944,1142) rotate(-90)">SCENIC+</text></g>
<text x="880" y="1264" class="s" text-anchor="middle">package</text>
<g class="s"><text x="963" y="1049">package</text>
<rect x="963" y="1056" width="15" height="15" fill="#e8202a"/><text x="984" y="1067">Epiregulon_ChIP (38.8%)</text>
<rect x="963" y="1073" width="15" height="15" fill="#e8202a"/><text x="984" y="1083">Epiregulon_motifs (37.0%)</text>
<rect x="963" y="1090" width="15" height="15" fill="#7f7f7f"/><text x="984" y="1100">FigR (43.8%)</text>
<rect x="963" y="1106" width="15" height="15" fill="#2b4ea2"/><text x="984" y="1116">Pando (46.7%)</text>
<rect x="963" y="1122" width="15" height="15" fill="#f5a623"/><text x="984" y="1132">SCENIC+ (55.6%)</text></g>

<!-- ============ PANEL H ============ -->
<text x="5" y="1298" class="L">h</text>
<text x="150" y="1306" class="s" text-anchor="middle">Run Time</text>
<g class="s" text-anchor="end"><text x="42" y="1351">16</text><text x="42" y="1381">12</text><text x="42" y="1411">8</text><text x="42" y="1442">4</text><text x="42" y="1472">0</text></g>
<g stroke="#333"><line x1="47" y1="1335" x2="47" y2="1471"/><line x1="43" y1="1347" x2="47" y2="1347"/><line x1="43" y1="1377" x2="47" y2="1377"/><line x1="43" y1="1407" x2="47" y2="1407"/><line x1="43" y1="1438" x2="47" y2="1438"/><line x1="43" y1="1468" x2="47" y2="1468"/><line x1="47" y1="1471" x2="262" y2="1471"/></g>
<text transform="translate(26,1395) rotate(-90)" class="s" text-anchor="middle">Run time [hours]</text>
<rect x="52" y="1466" width="38" height="2" fill="#e8202a"/><rect x="95" y="1455.5" width="38" height="12.5" fill="#2b4ea2"/><rect x="138" y="1449" width="38" height="19" fill="#f5a623"/><rect x="179" y="1374" width="38" height="94" fill="#7f7f7f"/><rect x="221" y="1360" width="38" height="108" fill="#5cb85c"/>
<g fill="#111"><circle cx="60" cy="1466" r="1.5"/><circle cx="68" cy="1466" r="1.5"/><circle cx="76" cy="1466" r="1.5"/><circle cx="84" cy="1466" r="1.5"/><circle cx="103" cy="1455" r="1.5"/><circle cx="111" cy="1456" r="1.5"/><circle cx="119" cy="1454" r="1.5"/><circle cx="126" cy="1455" r="1.5"/><circle cx="146" cy="1449" r="1.5"/><circle cx="153" cy="1447" r="1.5"/><circle cx="160" cy="1450" r="1.5"/><circle cx="167" cy="1448" r="1.5"/><circle cx="190" cy="1375" r="1.5"/><circle cx="197" cy="1372" r="1.5"/><circle cx="201" cy="1363" r="1.5"/><circle cx="209" cy="1375" r="1.5"/><circle cx="229" cy="1358" r="1.5"/><circle cx="236" cy="1362" r="1.5"/><circle cx="243" cy="1360" r="1.5"/><circle cx="251" cy="1361" r="1.5"/></g>
<g class="s" text-anchor="end"><text transform="translate(75,1480) rotate(-90)">Epiregulon</text><text transform="translate(118,1480) rotate(-90)">Pando</text><text transform="translate(161,1480) rotate(-90)">SCENIC+</text><text transform="translate(202,1480) rotate(-90)">FigR</text><text transform="translate(244,1480) rotate(-90)">GRaNIE</text></g>
<text x="162" y="1563" class="s" text-anchor="middle">package</text>
<g class="s"><text x="281" y="1354">package</text>
<rect x="281" y="1360" width="13" height="13" fill="#e8202a"/><text x="300" y="1370">Epiregulon (0.25hr)</text>
<rect x="281" y="1374" width="13" height="13" fill="#2b4ea2"/><text x="300" y="1384">Pando (1.66hr)</text>
<rect x="281" y="1388" width="13" height="13" fill="#f5a623"/><text x="300" y="1398">SCENIC+ (2.54hr)</text>
<rect x="281" y="1402" width="13" height="13" fill="#7f7f7f"/><text x="300" y="1412">FigR (12.46hr)</text>
<rect x="281" y="1416" width="13" height="13" fill="#5cb85c"/><text x="300" y="1426">GRaNIE (14.29hr)</text></g>
<g fill="#111"><circle cx="287.5" cy="1366.5" r="1.2"/><circle cx="287.5" cy="1380.5" r="1.2"/><circle cx="287.5" cy="1394.5" r="1.2"/><circle cx="287.5" cy="1408.5" r="1.2"/><circle cx="287.5" cy="1422.5" r="1.2"/></g>

<text x="583" y="1301" class="s" text-anchor="middle">Memory Use</text>
<g class="s" text-anchor="end"><text x="485" y="1377">100</text><text x="485" y="1426">50</text><text x="485" y="1476">0</text></g>
<g stroke="#333"><line x1="490" y1="1335" x2="490" y2="1475"/><line x1="486" y1="1373" x2="490" y2="1373"/><line x1="486" y1="1422" x2="490" y2="1422"/><line x1="486" y1="1472" x2="490" y2="1472"/><line x1="490" y1="1475" x2="697" y2="1475"/></g>
<text transform="translate(458,1400) rotate(-90)" class="s" text-anchor="middle">Maximum memory use [GB]</text>
<rect x="493" y="1463.6" width="37" height="8.4" fill="#e8202a"/><rect x="534" y="1457" width="37" height="15" fill="#2b4ea2"/><rect x="575" y="1444.6" width="37" height="27.4" fill="#f5a623"/><rect x="616" y="1360" width="37" height="112" fill="#5cb85c"/><rect x="657" y="1342.5" width="37" height="129.5" fill="#7f7f7f"/>
<g fill="#111"><circle cx="501" cy="1463" r="1.5"/><circle cx="508" cy="1464" r="1.5"/><circle cx="515" cy="1463" r="1.5"/><circle cx="522" cy="1464" r="1.5"/><circle cx="542" cy="1457" r="1.5"/><circle cx="549" cy="1456" r="1.5"/><circle cx="556" cy="1457" r="1.5"/><circle cx="563" cy="1456" r="1.5"/><circle cx="583" cy="1445" r="1.5"/><circle cx="590" cy="1442" r="1.5"/><circle cx="596" cy="1437" r="1.5"/><circle cx="604" cy="1445" r="1.5"/><circle cx="624" cy="1360" r="1.5"/><circle cx="631" cy="1364" r="1.5"/><circle cx="638" cy="1360" r="1.5"/><circle cx="645" cy="1361" r="1.5"/><circle cx="665" cy="1343" r="1.5"/><circle cx="672" cy="1342" r="1.5"/><circle cx="679" cy="1343" r="1.5"/><circle cx="686" cy="1342" r="1.5"/></g>
<g class="s" text-anchor="end"><text transform="translate(515,1485) rotate(-90)">Epiregulon</text><text transform="translate(556,1485) rotate(-90)">Pando</text><text transform="translate(597,1485) rotate(-90)">SCENIC+</text><text transform="translate(638,1485) rotate(-90)">GRaNIE</text><text transform="translate(679,1485) rotate(-90)">FigR</text></g>
<text x="619" y="1566" class="s" text-anchor="middle">package</text>
<g class="s"><text x="720" y="1358">package</text>
<rect x="720" y="1364" width="13" height="13" fill="#e8202a"/><text x="739" y="1374">Epiregulon (8.45GB)</text>
<rect x="720" y="1378" width="13" height="13" fill="#2b4ea2"/><text x="739" y="1388">Pando (15.06GB)</text>
<rect x="720" y="1392" width="13" height="13" fill="#f5a623"/><text x="739" y="1402">SCENIC+ (27.69GB)</text>
<rect x="720" y="1406" width="13" height="13" fill="#5cb85c"/><text x="739" y="1416">GRaNIE (113.19GB)</text>
<rect x="720" y="1420" width="13" height="13" fill="#7f7f7f"/><text x="739" y="1430">FigR (130.84GB)</text></g>
<g fill="#111"><circle cx="726.5" cy="1370.5" r="1.2"/><circle cx="726.5" cy="1384.5" r="1.2"/><circle cx="726.5" cy="1398.5" r="1.2"/><circle cx="726.5" cy="1412.5" r="1.2"/><circle cx="726.5" cy="1426.5" r="1.2"/></g>
</svg>
</body></html>
